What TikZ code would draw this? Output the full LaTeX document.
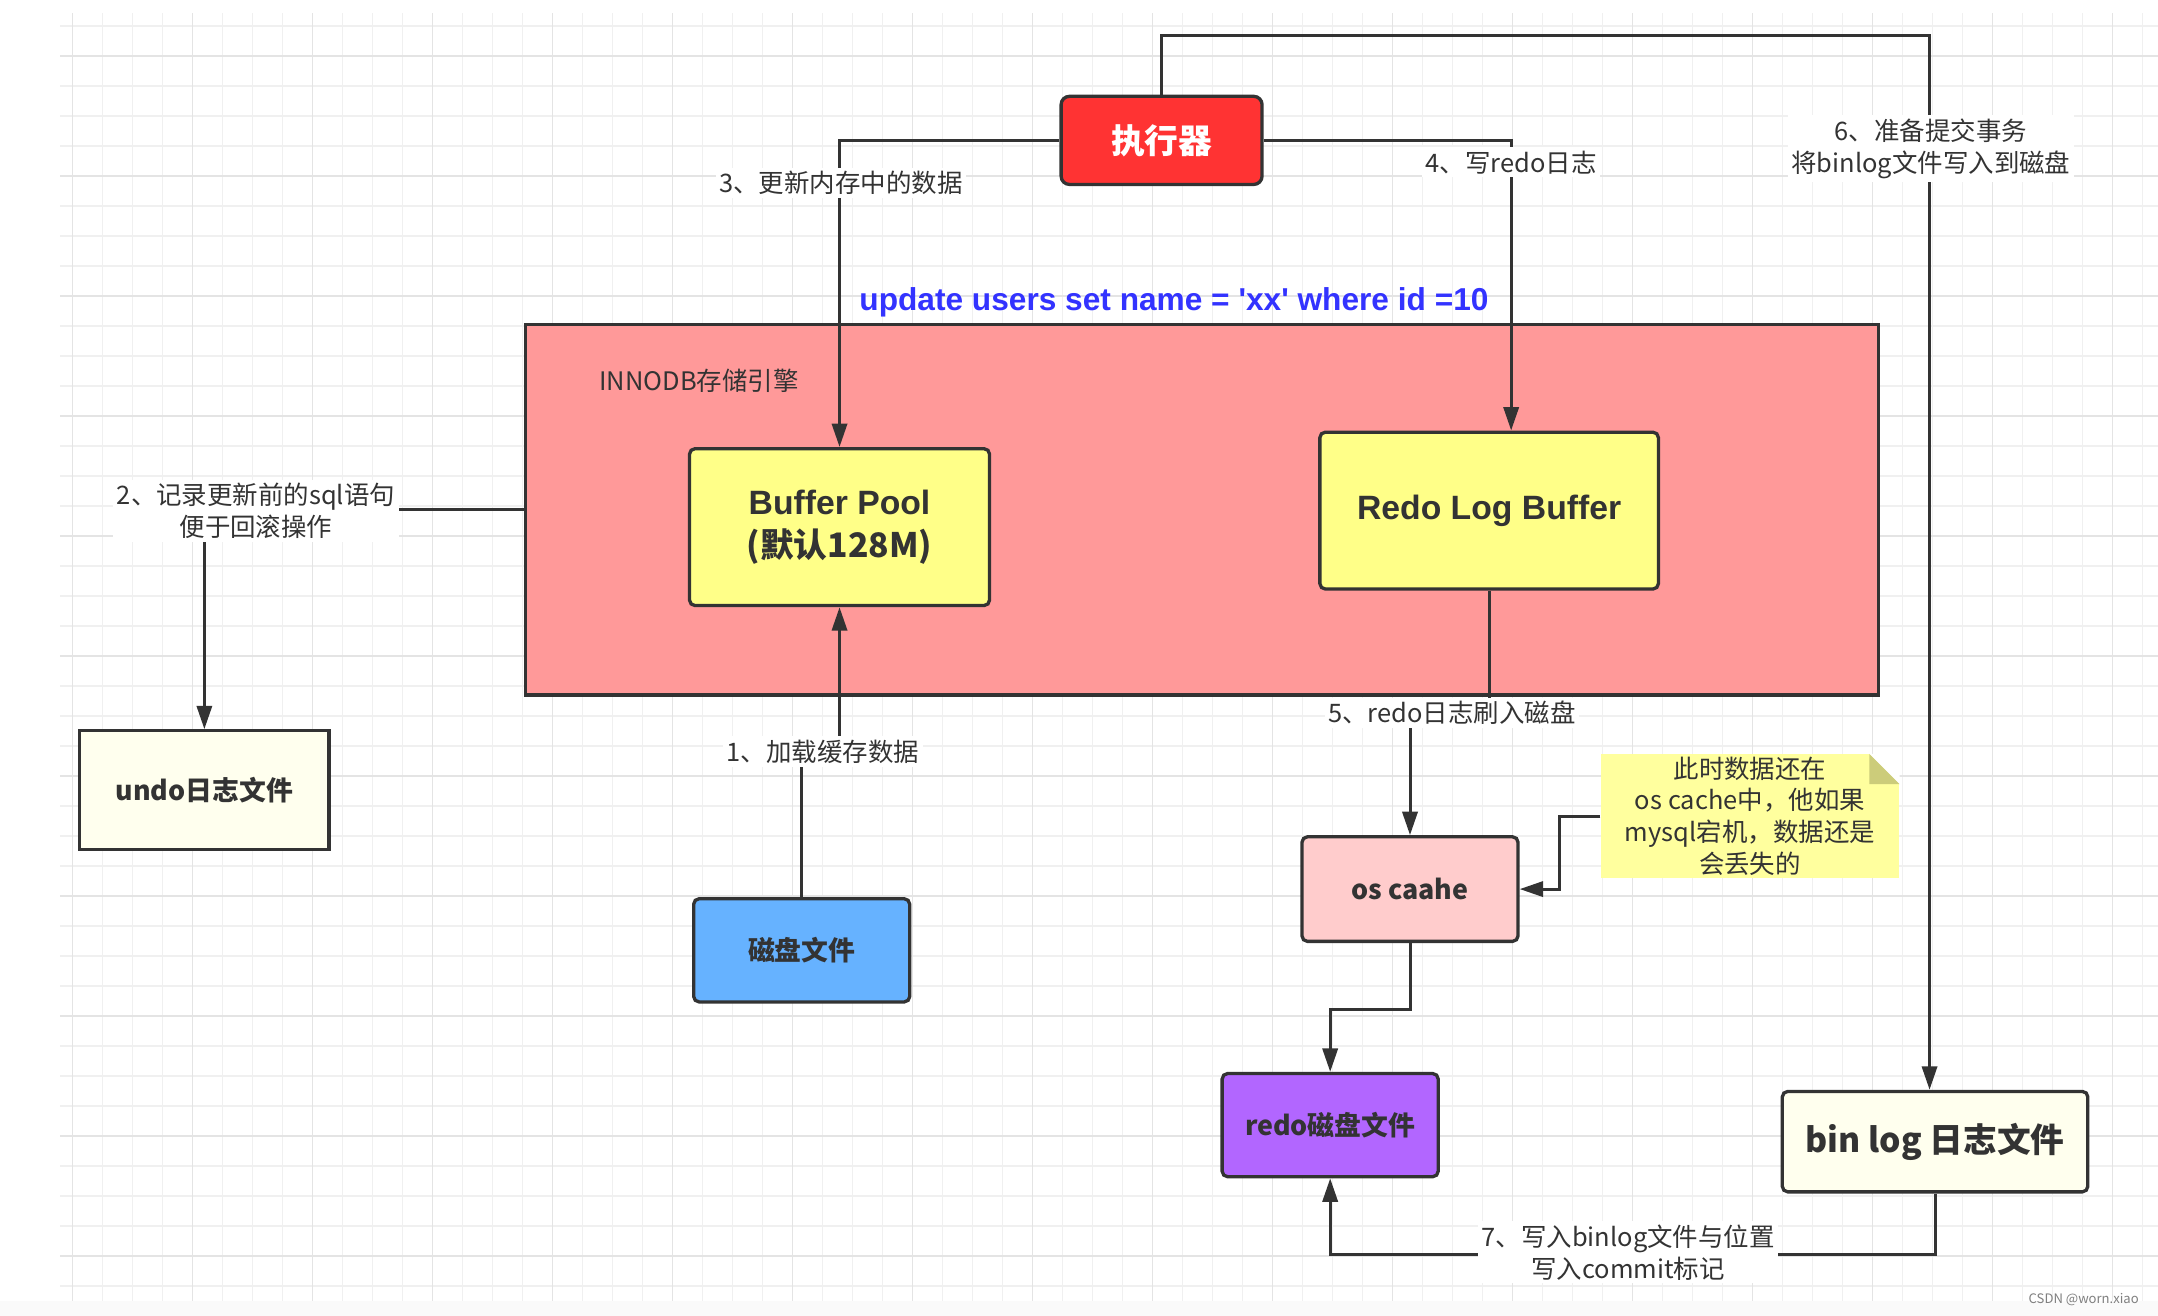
\documentclass[tikz,border=0pt]{standalone}
\usepackage{fontspec}
\setmainfont{Noto Sans CJK SC}
\newfontfamily\arial{Liberation Sans}
\usetikzlibrary{arrows.meta}

\definecolor{linegray}{HTML}{333333}
\definecolor{gridminor}{HTML}{F0F0F0}
\definecolor{gridmajor}{HTML}{E4E4E4}
\definecolor{execred}{HTML}{FF3333}
\definecolor{innopink}{HTML}{FF9999}
\definecolor{bufyellow}{HTML}{FFFF88}
\definecolor{filecream}{HTML}{FFFFEE}
\definecolor{diskblue}{HTML}{66B2FF}
\definecolor{cachepink}{HTML}{FFCCCC}
\definecolor{redopurple}{HTML}{B266FF}
\definecolor{noteyellow}{HTML}{FFFF9E}
\definecolor{notefold}{HTML}{CCCC7A}
\definecolor{sqlblue}{HTML}{3333FF}

\newcommand\lblfont{\fontsize{18.5}{23}\selectfont}
\newcommand\midfont{\bfseries\fontsize{19.5}{24}\selectfont}
\newcommand\bigfont{\bfseries\fontsize{24.5}{31}\selectfont}
\newcommand\sqlfont{\arial\bfseries\fontsize{23}{28}\selectfont}
\newcommand\markfont{\fontsize{9.5}{11}\selectfont}

\begin{document}
\begin{tikzpicture}[x=1pt,y=-1pt,
  box/.style={draw=linegray,line width=2.4pt,rounded corners=4pt,text=linegray,
    align=center,inner sep=0pt,font=\midfont},
  conn/.style={draw=linegray,line width=2.2pt,-{Triangle[length=17pt,width=11pt]}},
  steplabel/.style={fill=white,text=linegray,align=center,inner sep=2.5pt,font=\lblfont}]

  \useasboundingbox (0,0) rectangle (1568,956);

  % grid paper
  \fill[white] (0,0) rectangle (1568,956);
  \fill[black!2] (0,945.3) rectangle (1568,956);
  \foreach \i in {0,...,69}
    \draw[gridminor,line width=0.8pt] ({52.82+21.797*\i},9.45) -- ({52.82+21.797*\i},945.3);
  \foreach \j in {0,...,42}
    \draw[gridminor,line width=0.8pt] (43.6,{18.89+21.797*\j}) -- (1568,{18.89+21.797*\j});
  \foreach \i in {0,...,17}
    \draw[gridmajor,line width=1.1pt] ({52.82+87.19*\i},9.45) -- ({52.82+87.19*\i},945.3);
  \foreach \j in {0,...,10}
    \draw[gridmajor,line width=1.1pt] (43.6,{40.69+87.19*\j}) -- (1568,{40.69+87.19*\j});

  % storage engine
  \node[box,fill=innopink,rounded corners=0pt,minimum width=983pt,minimum height=269pt] (inno) at (873.5,370.5) {};
  \node[text=linegray,font=\lblfont] (innotitle) at (508,277) {INNODB存储引擎};
  \node[text=sqlblue,font=\sqlfont] (sql) at (853,220) {update users set name = 'xx' where id =10};

  \node[box,fill=execred,text=white,font=\bigfont,rounded corners=6pt,minimum width=146pt,minimum height=64pt] (exec) at (844,102) {执行器};
  \node[box,fill=bufyellow,font=\bigfont,minimum width=218pt,minimum height=114pt] (bp) at (610,383) {{\arial Buffer Pool}\\(默认128M)};
  \node[box,fill=bufyellow,font=\bigfont,minimum width=246pt,minimum height=114pt] (rlb) at (1082,371) {\arial Redo Log Buffer};

  \node[box,fill=filecream,rounded corners=0pt,minimum width=181pt,minimum height=86pt] (undo) at (148.5,574) {undo日志文件};
  \node[box,fill=diskblue,minimum width=157pt,minimum height=75pt] (disk) at (582.5,690.5) {磁盘文件};
  \node[box,fill=cachepink,minimum width=157pt,minimum height=76pt] (osc) at (1024.5,646) {os caahe};
  \node[box,fill=redopurple,minimum width=157pt,minimum height=75pt] (redo) at (966.5,817.5) {redo磁盘文件};
  \node[box,fill=filecream,font=\bigfont,minimum width=222pt,minimum height=73pt] (binlog) at (1406,829.5) {bin log 日志文件};

  % note
  \node[fill=noteyellow,text=linegray,font=\lblfont,align=center,inner sep=0pt,
    minimum width=217pt,minimum height=90pt] (note) at (1271.5,593)
    {此时数据还在\\os cache中，他如果\\mysql宕机，数据还是\\会丢失的};
  \fill[white] ([xshift=-22pt]note.north east) -- (note.north east) -- ([yshift=-22pt]note.north east) -- cycle;
  \fill[notefold] ([xshift=-22pt]note.north east) -- ([xshift=-22pt,yshift=-22pt]note.north east)
    -- ([yshift=-22pt]note.north east) -- cycle;

  % connectors
  \draw[conn] (exec.north) -- ++(0,-43) -| ([xshift=-4pt]binlog.north);
  \draw[conn] (exec.west) -| (bp.north);
  \draw[conn] (exec.east) -| ([xshift=16pt]rlb.north);
  \draw[conn] (inno.west) -| (undo.north);
  \draw[conn] (disk.north) -- ++(0,-107) -| (bp.south);
  \draw[conn] (rlb.south) -- ++(0,90) -| (osc.north);
  \draw[conn] (note.west) -- ++(-30,0) |- (osc.east);
  \draw[conn] (osc.south) -- ++(0,48) -| (redo.north);
  \draw[conn] (binlog.south) -- ++(0,44) -| (redo.south);

  % step labels
  \node[steplabel] (s1) at (598,546) {1、加载缓存数据};
  \node[steplabel] (s2) at (186,371) {2、记录更新前的sql语句\\便于回滚操作};
  \node[steplabel] (s3) at (611,133) {3、更新内存中的数据};
  \node[steplabel] (s4) at (1098,118) {4、写redo日志};
  \node[steplabel] (s5) at (1055,518) {5、redo日志刷入磁盘};
  \node[steplabel] (s6) at (1403,108) {6、准备提交事务\\将binlog文件写入到磁盘};
  \node[steplabel] (s7) at (1183,910) {7、写入binlog文件与位置\\写入commit标记};

  \node[text=black!50,font=\markfont] (mark) at (1514,944) {CSDN @worn.xiao};
\end{tikzpicture}
\end{document}
